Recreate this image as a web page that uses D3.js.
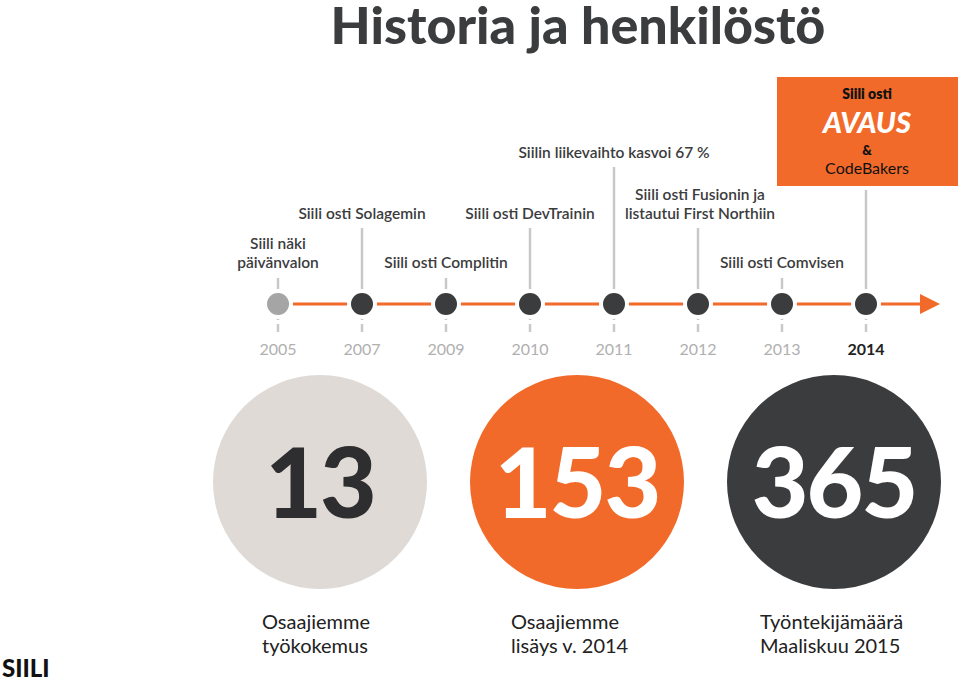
<!DOCTYPE html>
<html><head><meta charset="utf-8">
<script src="https://cdn.jsdelivr.net/npm/d3@7"></script>
<style>body{margin:0;background:#fff}</style>
</head><body><div id="chart"></div>
<script>
// timeline years and events
var years = ["2005","2007","2009","2010","2011","2012","2013","2014"];
var eventText = [["Siili näki","päivänvalon"],["Siili osti Solagemin"],["Siili osti Complitin"],["Siili osti DevTrainin"],["Siilin liikevaihto kasvoi 67 %"],["Siili osti Fusionin ja","listautui First Northiin"],["Siili osti Comvisen"],[]];
var eventLevel = [0, 1, 0, 1, 2, 1, 0, 3];
var statValues = [13, 153, 365];
var statLabels = [["Osaajiemme","työkokemus"],["Osaajiemme","lisäys v. 2014"],["Työntekijämäärä","Maaliskuu 2015"]];
var statColors = ["#dfdad5","#f26a2a","#3b3c3e"];
var statText = ["#2e2e30","#ffffff","#ffffff"];

var W = 960, H = 681, orange = "#f26a2a", dark = "#3b3c3e";
var svg = d3.select("#chart").append("svg").attr("width", W).attr("height", H)
  .style("font-family", "Lato, 'Open Sans', sans-serif");

svg.append("text").attr("x", 578).attr("y", 44).attr("text-anchor", "middle")
  .attr("font-size", 52).attr("font-weight", 900).attr("fill", dark)
  .text("Historia ja henkilöstö");

var x = d3.scalePoint().domain(years).range([278, 866]);
var lineY = 304;
var levelTop = [278, 228, 167, 190];

// horizontal line + arrow
svg.append("line").attr("x1", 278).attr("x2", 925).attr("y1", lineY).attr("y2", lineY)
  .attr("stroke", orange).attr("stroke-width", 3);
svg.append("path").attr("d", "M920," + (lineY - 10) + "L940," + lineY + "L920," + (lineY + 10) + "Z").attr("fill", orange);

var g = svg.selectAll(".yr").data(years).enter().append("g");
g.append("line").attr("x1", d => x(d)).attr("x2", d => x(d))
  .attr("y1", (d, i) => levelTop[eventLevel[i]]).attr("y2", lineY)
  .attr("stroke", "#c8c8c8").attr("stroke-width", 2.5);
g.append("line").attr("x1", d => x(d)).attr("x2", d => x(d))
  .attr("y1", lineY).attr("y2", 332).attr("stroke", "#c8c8c8").attr("stroke-width", 2.5);
// white gaps around dots
g.append("circle").attr("cx", d => x(d)).attr("cy", lineY).attr("r", 15).attr("fill", "#fff");
g.append("circle").attr("cx", d => x(d)).attr("cy", lineY).attr("r", 11)
  .attr("fill", (d, i) => i == 0 ? "#a5a5a5" : dark);
g.append("rect").attr("x", d => x(d) - 14).attr("y", 320).attr("width", 28).attr("height", 4).attr("fill", "#fff");
g.append("text").attr("x", d => x(d)).attr("y", 355).attr("text-anchor", "middle")
  .attr("font-size", 16).attr("fill", (d, i) => i == 7 ? "#222" : "#b0b0b0")
  .attr("font-weight", (d, i) => i == 7 ? 700 : 400).text(d => d);

// event labels, centred on their year
var labelBottom = [268, 219, 158];
g.each(function (d, i) {
  var t = eventText[i];
  if (!t.length) return;
  var lv = eventLevel[i];
  var tx = x(d) + (i == 5 ? 2 : 0);
  var txt = d3.select(this).append("text").attr("text-anchor", "middle")
    .attr("font-size", 15.5).attr("font-weight", 600).attr("fill", dark);
  t.forEach(function (s, k) {
    txt.append("tspan").attr("x", tx).attr("y", labelBottom[lv] - (t.length - 1 - k) * 19).text(s);
  });
});

// 2014 box
svg.append("rect").attr("x", 777).attr("y", 77).attr("width", 181).attr("height", 109).attr("fill", orange);
svg.append("text").attr("x", 867).attr("y", 99).attr("text-anchor", "middle").attr("font-size", 14)
  .attr("font-weight", 800).attr("fill", "#111").text("Siili osti");
svg.append("text").attr("x", 867).attr("y", 133).attr("text-anchor", "middle").attr("font-size", 29)
  .attr("font-weight", 900).attr("font-style", "italic").attr("fill", "#fff").text("AVAUS");
svg.append("text").attr("x", 867).attr("y", 155).attr("text-anchor", "middle").attr("font-size", 13)
  .attr("font-weight", 800).attr("fill", "#111").text("&");
svg.append("text").attr("x", 867).attr("y", 174).attr("text-anchor", "middle").attr("font-size", 16)
  .attr("fill", "#111").text("CodeBakers");

// stat circles
var cx = d3.scalePoint().domain(d3.range(3)).range([320, 834]);
var sg = svg.selectAll(".st").data(statValues).enter().append("g");
sg.append("circle").attr("cx", (d, i) => cx(i)).attr("cy", 482).attr("r", 107).attr("fill", (d, i) => statColors[i]);
sg.append("text").attr("x", (d, i) => cx(i)).attr("y", 518).attr("text-anchor", "middle")
  .attr("font-size", 98).attr("font-weight", 900).attr("letter-spacing", -2)
  .attr("fill", (d, i) => statText[i]).text(d => d);
sg.each(function (d, i) {
  var t = d3.select(this).append("text").attr("font-size", 20).attr("fill", "#222");
  statLabels[i].forEach(function (s, k) {
    t.append("tspan").attr("x", cx(i) - 58 - i * 8).attr("y", 629 + k * 24).text(s);
  });
});

svg.append("text").attr("x", 2).attr("y", 677).attr("font-size", 24).attr("font-weight", 900)
  .attr("fill", "#111").text("SIILI");
</script></body></html>
